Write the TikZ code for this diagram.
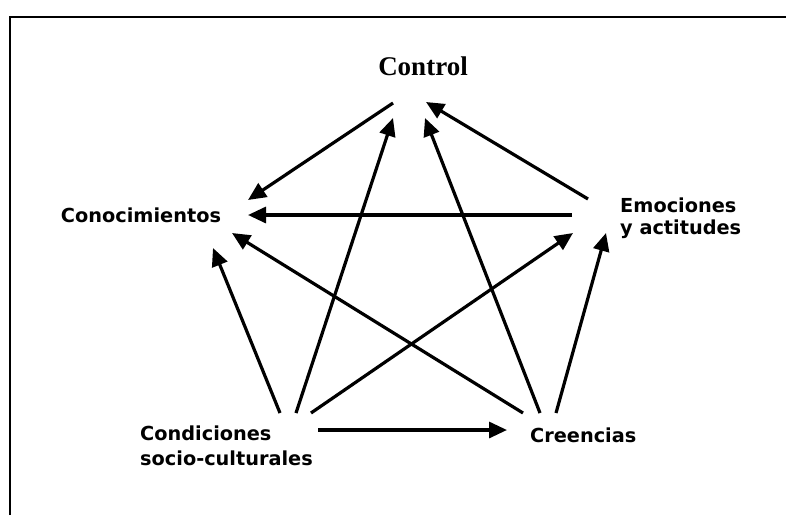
\documentclass[tikz,border=0pt]{standalone}
\usepackage{fontspec}
\setmainfont{Liberation Serif}
\newfontfamily\labelfont{DejaVu Sans}
\usetikzlibrary{arrows.meta,calc}
\begin{document}
\begin{tikzpicture}[x=1pt,y=-1pt,
  lbl/.style={inner sep=0pt,font=\labelfont\bfseries\fontsize{19.3}{22}\selectfont},
  ttl/.style={inner sep=0pt,font=\bfseries\fontsize{27}{30}\selectfont},
  link/.style={line width=3.2pt,-{Triangle[length=18pt,width=16pt]}},
  frame/.style={line width=2.5pt}]
\useasboundingbox (0,0) rectangle (786,515);
\fill[white] (0,0) rectangle (786,515);
% frame (left and top edges only)
\draw[frame] (10,515) -- (10,17) -- (786,17);

% labels
\node[ttl,anchor=base] (ctrl) at (423,75) {Control};
\node[lbl,anchor=base] (con) at (141,222) {Conocimientos};
\node[lbl,anchor=base west] (emo) at (620,212)
  {\begin{tabular}[t]{@{}l@{}}Emociones\\y actitudes\end{tabular}};
\node[lbl,anchor=base west] (cond) at (140,440)
  {\begin{tabular}[t]{@{}l@{}}Condiciones\\[3pt]socio-culturales\end{tabular}};
\node[lbl,anchor=base west] (cree) at (530,442) {Creencias};

% influences
\draw[link] ($(ctrl.base)+(-30,28)$) -- ($(con.base)+(107,-22)$);
\draw[link] ($(emo.base west)+(-48,3)$) -- ($(con.base)+(107,-7)$);
\draw[link] ($(emo.base west)+(-32,-13)$) -- ($(ctrl.base)+(3,27)$);
\draw[link] ($(cond.base west)+(156,-27)$) -- ($(ctrl.base)+(-30,43)$);
\draw[link] ($(cree.base west)+(10,-29)$) -- ($(ctrl.base)+(2,43)$);
\draw[link] ($(cond.base west)+(140,-27)$) -- ($(con.base)+(72,26)$);
\draw[link] ($(cree.base west)+(-7,-29)$) -- ($(con.base)+(91,11)$);
\draw[link] ($(cond.base west)+(171,-27)$) -- ($(emo.base west)+(-47,21)$);
\draw[link] ($(cree.base west)+(26,-29)$) -- ($(emo.base west)+(-14,21)$);
\draw[link] ($(cond.base west)+(178,-10)$) -- ($(cree.base west)+(-23,-12)$);
\end{tikzpicture}
\end{document}
